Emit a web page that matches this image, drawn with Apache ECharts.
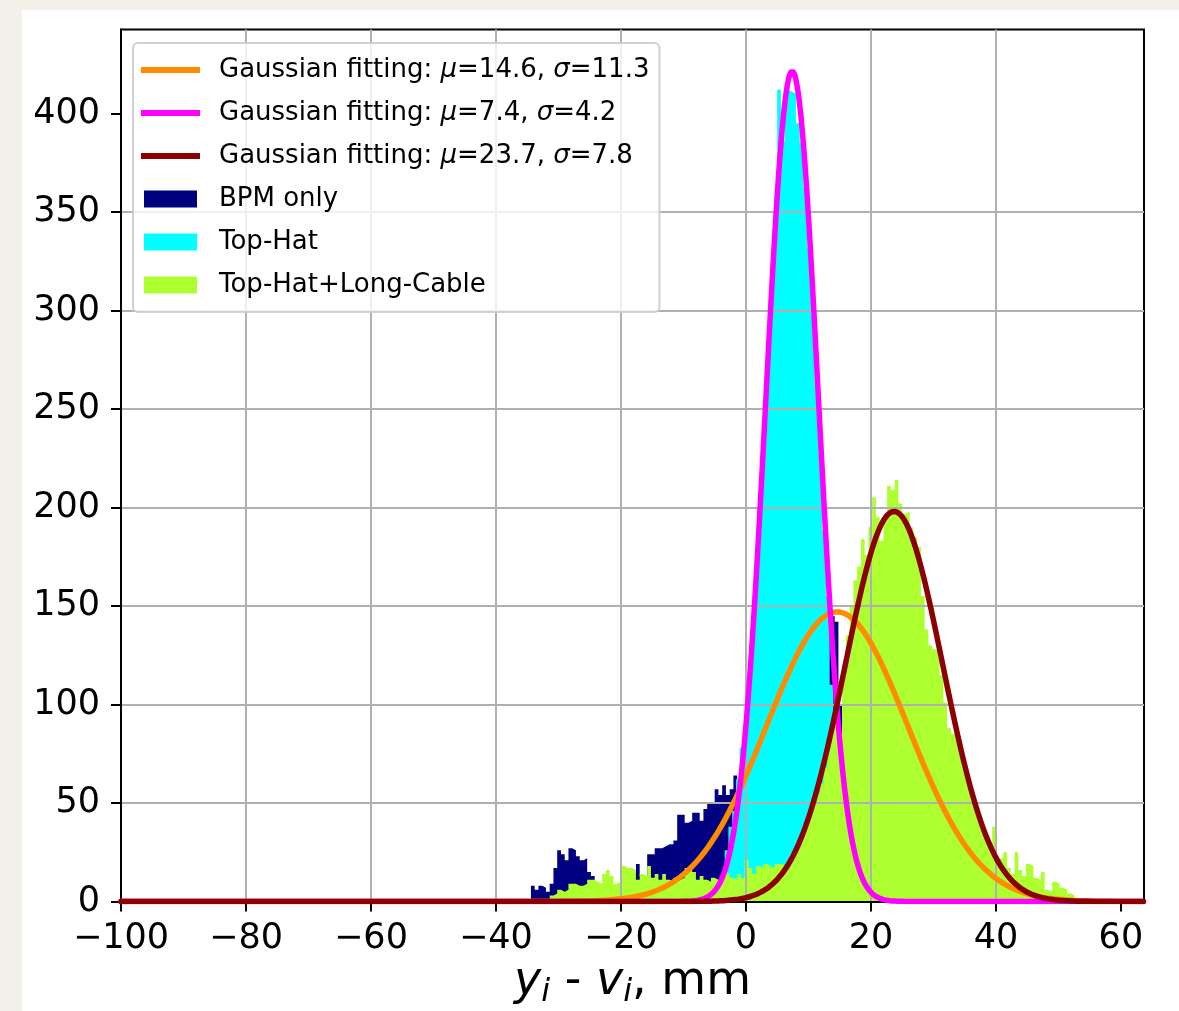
<!DOCTYPE html>
<html>
<head>
<meta charset="utf-8">
<script src="https://cdn.jsdelivr.net/npm/echarts@6/dist/echarts.min.js"></script>
<style>
html, body { margin: 0; padding: 0; width: 1179px; height: 1011px; background: #f3f0ea; overflow: hidden; }
#chart { position: absolute; left: 22px; top: 10px; width: 1157px; height: 1001px; background: #ffffff; }
</style>
</head>
<body>
<div id="chart"></div>
<script>
// Histogram bins: all three share a 0.6 mm bin width; each array starts at its own left edge.
const binWidth = 0.6;

const bpmStart = -34.4;
const bpmCounts = [
  8, 6, 8, 7, 5, 9, 17, 26, 24, 21,
  27, 26, 23, 21, 22, 15, 13, 6, 5, 7,
  9, 8, 6, 7, 10, 12, 11, 14, 19, 13,
  13, 24, 24, 27, 27, 28, 29, 29, 31, 44,
  44, 40, 41, 45, 45, 41, 47, 50, 50, 57,
  54, 59, 54, 57, 64, 60, 62, 68, 72, 78,
  84, 88, 94, 100, 104, 110, 114, 118, 122, 126,
  128, 131, 134, 136, 138, 140, 141, 143, 143, 144,
  145, 142, 100
];

const topHatStart = -3.4;
const topHatCounts = [
  26, 38, 46, 62, 78, 90, 110, 135, 165, 198,
  232, 268, 305, 338, 412, 386, 412, 411, 410, 395,
  385, 362, 332, 298, 262, 240, 188, 155, 110, 72,
  50, 30, 16, 8, 3
];

const cableStart = -32.0;
const cableCounts = [
  1, 3, 4, 6, 5, 6, 9, 9, 8, 8,
  9, 11, 11, 10, 9, 14, 16, 13, 9, 10,
  18, 17, 17, 16, 11, 14, 13, 18, 12, 14,
  11, 14, 11, 10, 12, 11, 12, 17, 18, 15,
  11, 13, 11, 10, 12, 11, 11, 15, 14, 12,
  11, 14, 12, 21, 17, 14, 18, 17, 19, 18,
  17, 19, 19, 18, 20, 24, 26, 30, 33, 38,
  43, 50, 55, 60, 68, 78, 90, 95, 85, 118,
  135, 150, 163, 170, 184, 176, 190, 205, 195, 183,
  196, 211, 209, 214, 202, 197, 198, 190, 185, 180,
  155, 138, 130, 128, 127, 115, 101, 88, 85, 86,
  82, 70, 62, 55, 48, 42, 36, 32, 28, 38,
  18, 22, 25, 17, 14, 25, 16, 13, 19, 18,
  12, 11, 15, 6, 5, 10, 9, 7, 6, 4,
  3, 1
];

const histNames = ['BPM only', 'Top-Hat', 'Top-Hat+Long-Cable'];
const histColors = ['#000080', '#00ffff', '#adff2f'];

// Gaussian fits: mean, sigma and peak height of each curve
const fitMu = [14.6, 7.4, 23.7];
const fitSigma = [11.3, 4.2, 7.8];
const fitPeak = [147, 421.5, 198];
const fitColors = ['#ff8c00', '#ff00ff', '#8b0000'];

// Axis ranges and ticks
const xRange = [-100, 63.7];
const yRange = [0, 442.6];
const xTicks = [-100, -80, -60, -40, -20, 0, 20, 40, 60];
const yTicks = [0, 50, 100, 150, 200, 250, 300, 350, 400];

const FONT = 'DejaVu Sans';

// Step outline of a histogram: one point per left bin edge, closed at the right edge.
function stepData(start, counts) {
  const pts = counts.map((c, i) => [+(start + i * binWidth).toFixed(3), c]);
  const end = +(start + counts.length * binWidth).toFixed(3);
  pts.push([end, counts[counts.length - 1]]);
  pts.push([end, 0]);
  return pts;
}

function gaussCurve(k) {
  const pts = [];
  const n = Math.round((xRange[1] - xRange[0]) / 0.2);
  for (let i = 0; i <= n; i++) {
    const x = xRange[0] + i * 0.2;
    const d = (x - fitMu[k]) / fitSigma[k];
    pts.push([x, fitPeak[k] * Math.exp(-0.5 * d * d)]);
  }
  return pts;
}

const fitNames = fitMu.map((m, k) => `Gaussian fitting: μ=${m}, σ=${fitSigma[k]}`);

const histSeries = [
  [bpmStart, bpmCounts],
  [topHatStart, topHatCounts],
  [cableStart, cableCounts]
].map(([start, counts], k) => ({
  name: histNames[k],
  type: 'line',
  step: 'end',
  data: stepData(start, counts),
  showSymbol: false,
  symbol: 'none',
  color: histColors[k],
  itemStyle: { color: histColors[k] },
  lineStyle: { width: 0, color: histColors[k] },
  areaStyle: { color: histColors[k], opacity: 1 },
  z: 2,
  silent: true
}));

const fitSeries = fitNames.map((name, k) => ({
  name,
  type: 'line',
  data: gaussCurve(k),
  showSymbol: false,
  symbol: 'none',
  color: fitColors[k],
  itemStyle: { color: fitColors[k] },
  lineStyle: { width: 5.5, color: fitColors[k], cap: 'round', join: 'round' },
  z: 4,
  clip: true,
  silent: true
}));

const minus = v => String(v).replace('-', '\u2212');

const chart = echarts.init(document.getElementById('chart'), null, { renderer: 'canvas' });
chart.setOption({
  animation: false,
  backgroundColor: '#ffffff',
  textStyle: { fontFamily: FONT },
  grid: {
    left: 99, top: 19.5, right: 35, bottom: 109.5,
    show: true, borderColor: '#000', borderWidth: 2, backgroundColor: 'transparent',
    outerBoundsMode: 'none'
  },
  legend: {
    orient: 'vertical',
    left: 111, top: 33,
    padding: [12, 10, 12, 8],
    itemWidth: 59, itemHeight: 17, itemGap: 13,
    backgroundColor: 'rgba(255,255,255,0.8)',
    borderColor: 'rgba(204,204,204,0.9)', borderWidth: 2, borderRadius: 5,
    itemStyle: { borderWidth: 0, opacity: 1 },
    textStyle: {
      fontFamily: FONT, fontSize: 26, color: '#000', lineHeight: 30,
      padding: [0, 0, 0, 14],
      rich: { m: { fontFamily: FONT, fontStyle: 'italic', fontSize: 26, color: '#000', lineHeight: 30 } }
    },
    formatter: name => name.replace('μ', '{m|μ}').replace('σ', '{m|σ}'),
    selectedMode: false,
    z: 10,
    data: [
      ...fitNames.map(n => ({ name: n, icon: 'path://M0,0H59V6H0Z' })),
      ...histNames.map(n => ({ name: n, icon: 'path://M0,0H53V17H0Z' }))
    ]
  },
  xAxis: {
    type: 'value',
    min: xRange[0], max: xRange[1], interval: 20,
    z: 3,
    axisLine: { show: true, onZero: false, lineStyle: { color: '#000', width: 2 } },
    axisTick: { show: true, length: 10, lineStyle: { color: '#000', width: 2 }, customValues: xTicks },
    axisLabel: {
      customValues: xTicks,
      fontFamily: FONT, fontSize: 35, color: '#000', margin: 20,
      formatter: minus
    },
    splitLine: { show: true, showMinLine: false, showMaxLine: false, lineStyle: { color: '#b0b0b0', width: 2 } },
    name: '{it|y}{sub|i}{t| - }{it|v}{sub|i}{t|, mm}',
    nameLocation: 'middle',
    nameGap: 55,
    nameMoveOverlap: false,
    nameTextStyle: {
      fontFamily: FONT, fontSize: 46, color: '#000',
      rich: {
        it: { fontFamily: FONT, fontStyle: 'italic', fontSize: 46, lineHeight: 52, color: '#000', verticalAlign: 'middle' },
        sub: { fontFamily: FONT, fontStyle: 'italic', fontSize: 32, lineHeight: 25, color: '#000', verticalAlign: 'bottom' },
        t: { fontFamily: FONT, fontSize: 46, lineHeight: 52, color: '#000', verticalAlign: 'middle' }
      }
    }
  },
  yAxis: {
    type: 'value',
    min: yRange[0], max: yRange[1], interval: 50,
    z: 3,
    axisLine: { show: true, onZero: false, lineStyle: { color: '#000', width: 2 } },
    axisTick: { show: true, length: 10, lineStyle: { color: '#000', width: 2 }, customValues: yTicks },
    axisLabel: {
      customValues: yTicks,
      fontFamily: FONT, fontSize: 35, color: '#000', margin: 21
    },
    splitLine: { show: true, showMinLine: false, showMaxLine: false, lineStyle: { color: '#b0b0b0', width: 2 } }
  },
  series: [...histSeries, ...fitSeries]
});
</script>
</body>
</html>
